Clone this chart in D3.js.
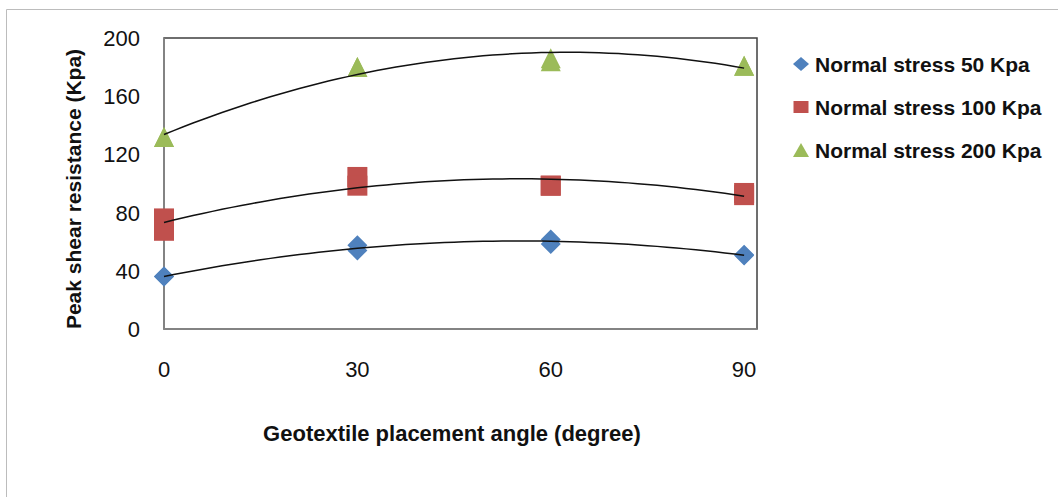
<!DOCTYPE html>
<html>
<head>
<meta charset="utf-8">
<script src="https://cdn.jsdelivr.net/npm/d3@7"></script>
<style>
    body { margin: 0; background: #fff; }
    svg { display: block; }
</style>
</head>
<body>
<script>
// dimensions
const width = 1058;
const height = 497;

// data (two repeat tests per angle)
const angles = [0, 30, 60, 90];
const s50_test1 = [36, 57.5, 61.5, 51];
const s50_test2 = [36, 54, 58.5, 50.5];
const s100_test1 = [76, 104.5, 98.5, 93.5];
const s100_test2 = [67.5, 98.5, 98.5, 92];
const s200_test1 = [132, 180, 186, 181];
const s200_test2 = [132, 180, 184, 181];
const seriesNames = ["Normal stress 50 Kpa", "Normal stress 100 Kpa", "Normal stress 200 Kpa"];
const seriesColors = ["#4F81BD", "#C0504D", "#9BBB59"];
const seriesShapes = ["diamond", "square", "triangle"];
const yTicks = [0, 40, 80, 120, 160, 200];
const xTicks = [0, 30, 60, 90];

const font = "'Liberation Sans', Arial, sans-serif";

const plot = { left: 164, right: 757, top: 38, bottom: 329 };

let svg = d3.select("body")
    .append("svg")
    .attr("width", width)
    .attr("height", height);

// outer chart frame (only top and left edges show)
svg.append("path")
    .attr("d", "M6.5," + height + "V9.5H" + width)
    .attr("fill", "none")
    .attr("stroke", "#bcbcbc");

let x = d3.scaleLinear()
    .domain([0, 92])
    .range([plot.left, plot.right]);
let y = d3.scaleLinear()
    .domain([0, 200])
    .range([plot.bottom, plot.top]);

// plot area border
svg.append("rect")
    .attr("x", plot.left)
    .attr("y", plot.top)
    .attr("width", plot.right - plot.left)
    .attr("height", plot.bottom - plot.top)
    .attr("fill", "none")
    .attr("stroke", "#3f3f3f")
    .attr("stroke-width", 1.5);

// left and bottom axis lines are lighter
svg.append("path")
    .attr("d", "M" + plot.left + "," + plot.top + "V" + plot.bottom + "H" + plot.right)
    .attr("fill", "none")
    .attr("stroke", "#8a8a8a")
    .attr("stroke-width", 1.5);

// y tick labels
svg.selectAll(".ytick")
    .data(yTicks)
    .enter()
    .append("text")
    .attr("class", "ytick")
    .attr("x", 140)
    .attr("y", d => y(d))
    .attr("dy", "0.36em")
    .attr("text-anchor", "end")
    .style("font-family", font)
    .style("font-size", "22px")
    .style("fill", "#111")
    .text(d => d);

// x tick labels sit well below the axis
svg.selectAll(".xtick")
    .data(xTicks)
    .enter()
    .append("text")
    .attr("class", "xtick")
    .attr("x", d => x(d))
    .attr("y", 377)
    .attr("text-anchor", "middle")
    .style("font-family", font)
    .style("font-size", "22px")
    .style("fill", "#111")
    .text(d => d);

// axis titles
svg.append("text")
    .attr("x", 452)
    .attr("y", 441)
    .attr("text-anchor", "middle")
    .style("font-family", font)
    .style("font-size", "22px")
    .style("font-weight", "bold")
    .style("fill", "#111")
    .text("Geotextile placement angle (degree)");

svg.append("text")
    .attr("transform", "translate(81,189) rotate(-90)")
    .attr("text-anchor", "middle")
    .style("font-family", font)
    .style("font-size", "21px")
    .style("font-weight", "bold")
    .style("fill", "#111")
    .text("Peak shear resistance (Kpa)");

// marker paths centred on 0,0
function markerPath(shape, w, h) {
    if (shape === "diamond") {
        return "M0," + (-h / 2) + "L" + (w / 2) + ",0L0," + (h / 2) + "L" + (-w / 2) + ",0Z";
    }
    if (shape === "square") {
        return "M" + (-w / 2) + "," + (-h / 2) + "h" + w + "v" + h + "h" + (-w) + "Z";
    }
    return "M0," + (-h / 2) + "L" + (w / 2) + "," + (h / 2) + "L" + (-w / 2) + "," + (h / 2) + "Z";
}

// 2nd order least squares fit, like the excel trendline
function polyFit(xs, ys) {
    let S = [0, 0, 0, 0, 0], T = [0, 0, 0];
    xs.forEach(function(xv, i) {
        for (let k = 0; k < 5; k++) S[k] += Math.pow(xv, k);
        for (let k = 0; k < 3; k++) T[k] += Math.pow(xv, k) * ys[i];
    });
    let A = [
        [S[0], S[1], S[2], T[0]],
        [S[1], S[2], S[3], T[1]],
        [S[2], S[3], S[4], T[2]]
    ];
    for (let c = 0; c < 3; c++) {
        for (let r = c + 1; r < 3; r++) {
            let f = A[r][c] / A[c][c];
            for (let k = c; k < 4; k++) A[r][k] -= f * A[c][k];
        }
    }
    let coef = [0, 0, 0];
    for (let r = 2; r >= 0; r--) {
        let s = A[r][3];
        for (let k = r + 1; k < 3; k++) s -= A[r][k] * coef[k];
        coef[r] = s / A[r][r];
    }
    return function(t) {
        return coef[0] + coef[1] * t + coef[2] * t * t;
    };
}

let series = [
    [s50_test1, s50_test2],
    [s100_test1, s100_test2],
    [s200_test1, s200_test2]
].map(function(tests, i) {
    let pts = [];
    tests.forEach(function(vals) {
        vals.forEach(function(v, j) {
            pts.push({ angle: angles[j], value: v });
        });
    });
    return { name: seriesNames[i], color: seriesColors[i], shape: seriesShapes[i], points: pts };
});

let markers = svg.append("g");
let trends = svg.append("g");

series.forEach(function(s) {
    markers.selectAll(null)
        .data(s.points)
        .enter()
        .append("path")
        .attr("d", markerPath(s.shape, 20, 20))
        .attr("transform", d => "translate(" + x(d.angle) + "," + y(d.value) + ")")
        .attr("fill", s.color);

    let fit = polyFit(s.points.map(d => d.angle), s.points.map(d => d.value));
    let samples = d3.range(0, 90.01, 1.5);
    trends.append("path")
        .datum(samples)
        .attr("d", d3.line().x(d => x(d)).y(d => y(fit(d))))
        .attr("fill", "none")
        .attr("stroke", "#111")
        .attr("stroke-width", 1.5);
});

// legend
let legendRows = [64, 107, 150];
let legend = svg.selectAll(".legend")
    .data(series)
    .enter()
    .append("g")
    .attr("class", "legend")
    .attr("transform", (d, i) => "translate(801," + legendRows[i] + ")");

legend.append("path")
    .attr("d", d => markerPath(d.shape, d.shape === "square" ? 15 : 16, d.shape === "square" ? 12 : 14))
    .attr("fill", d => d.color);

legend.append("text")
    .attr("x", 14)
    .attr("dy", "0.36em")
    .style("font-family", font)
    .style("font-size", "21px")
    .style("font-weight", "bold")
    .style("fill", "#111")
    .text(d => d.name);
</script>
</body>
</html>
